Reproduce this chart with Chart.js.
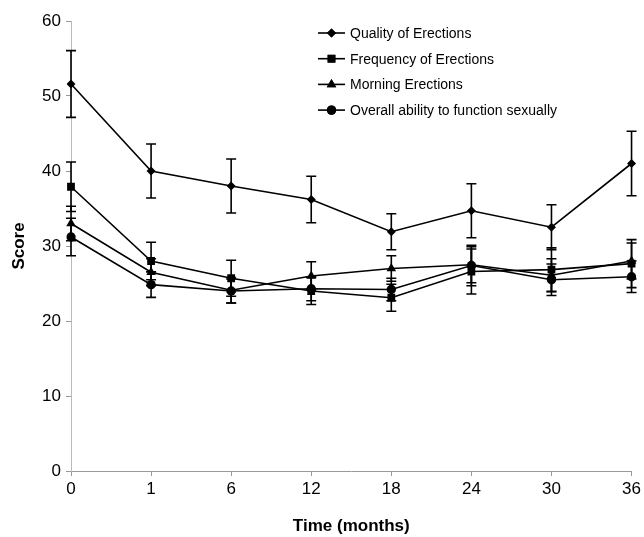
<!DOCTYPE html>
<html>
<head>
<meta charset="utf-8">
<script src="https://cdn.jsdelivr.net/npm/chart.js@4/dist/chart.umd.min.js"></script>
<style>
html,body{margin:0;padding:0;background:#fff;}
#wrap{width:644px;height:537px;position:relative;}
</style>
</head>
<body>
<div id="wrap"><canvas id="c" width="644" height="537"></canvas></div>
<script>
const timeLabels = ["0","1","6","12","18","24","30","36"];
const seriesNames = ["Quality of Erections","Frequency of Erections","Morning Erections","Overall ability to function sexually"];
const quality   = [51.6, 40.0, 38.0, 36.2, 31.9, 34.7, 32.5, 41.0];
const qualityErr= [4.45, 3.6, 3.6, 3.1, 2.4, 3.6, 3.0, 4.3];
const frequency = [37.9, 28.0, 25.7, 24.0, 23.1, 26.6, 26.85, 27.65];
const frequencyErr = [3.3, 2.5, 2.4, 1.8, 1.8, 3.0, 2.9, 3.2];
const morning   = [33.0, 26.5, 24.1, 26.0, 27.0, 27.5, 26.1, 28.0];
const morningErr= [2.3, 1.8, 1.7, 1.9, 1.7, 2.4, 2.2, 2.4];
const overall   = [31.2, 24.85, 24.0, 24.3, 24.2, 27.4, 25.5, 25.9];
const overallErr= [2.5, 1.7, 1.6, 1.6, 1.5, 2.7, 2.1, 2.1];
const yTicks = [0,10,20,30,40,50,60];

const FONT = "'Liberation Sans', Arial, sans-serif";

const styles = [
  {pointStyle:'rectRot', radius:4.5},
  {pointStyle:'rect', radius:5.5},
  {pointStyle:'triangle', radius:5.5},
  {pointStyle:'circle', radius:4.7}
];
const values = [quality, frequency, morning, overall];
const errors = [qualityErr, frequencyErr, morningErr, overallErr];

const datasets = seriesNames.map((name, k) => ({
  label: name,
  data: values[k],
  errors: errors[k],
  borderColor: '#000',
  backgroundColor: '#000',
  borderWidth: 1.6,
  pointStyle: styles[k].pointStyle,
  pointRadius: styles[k].radius,
  pointBorderWidth: 0,
  pointBackgroundColor: '#000',
  tension: 0,
  fill: false
}));

const errorBarPlugin = {
  id: 'errorBars',
  afterDatasetsDraw(chart) {
    const ctx = chart.ctx;
    const xs = chart.scales.x, ys = chart.scales.y;
    ctx.save();
    ctx.strokeStyle = '#000';
    ctx.lineWidth = 1.6;
    chart.data.datasets.forEach(ds => {
      ds.data.forEach((v, i) => {
        const e = ds.errors[i];
        const x = xs.getPixelForValue(i);
        const yt = ys.getPixelForValue(v + e);
        const yb = ys.getPixelForValue(v - e);
        ctx.beginPath();
        ctx.moveTo(x, yt); ctx.lineTo(x, yb);
        ctx.moveTo(x - 5, yt); ctx.lineTo(x + 5, yt);
        ctx.moveTo(x - 5, yb); ctx.lineTo(x + 5, yb);
        ctx.stroke();
      });
    });
    ctx.restore();
  }
};

const legendPlugin = {
  id: 'customLegend',
  afterDraw(chart) {
    const ctx = chart.ctx;
    ctx.save();
    ctx.font = '14px ' + FONT;
    ctx.fillStyle = '#000';
    ctx.textBaseline = 'middle';
    const x0 = 318, x1 = 345, ty0 = 33, dy = 25.7;
    chart.data.datasets.forEach((ds, k) => {
      const y = ty0 + k * dy;
      ctx.strokeStyle = '#000';
      ctx.lineWidth = 1.6;
      ctx.beginPath(); ctx.moveTo(x0, y); ctx.lineTo(x1, y); ctx.stroke();
      Chart.helpers.drawPoint(ctx, {pointStyle: ds.pointStyle, radius: ds.pointRadius, borderWidth: 0}, (x0 + x1) / 2, y);
      ctx.fill();
      ctx.fillText(ds.label, 350, y + 1);
    });
    ctx.restore();
  }
};

new Chart(document.getElementById('c'), {
  type: 'line',
  data: { labels: timeLabels, datasets },
  options: {
    responsive: false,
    animation: false,
    layout: { padding: { top: 21, right: 10, left: 0, bottom: 0 } },
    plugins: { legend: { display: false }, tooltip: { enabled: false } },
    scales: {
      x: {
        offset: false,
        grid: { drawOnChartArea: false, drawTicks: true, tickLength: 5, color: '#999' },
        border: { color: '#999', width: 1 },
        ticks: { color: '#000', font: { family: FONT, size: 17 }, padding: 3, maxRotation: 0, autoSkip: false },
        title: { display: true, text: 'Time (months)', color: '#000', font: { family: FONT, size: 17, weight: 'bold' }, padding: { top: 14, bottom: 0 } },
        afterFit(scale) { scale.height = 66; }
      },
      y: {
        min: 0, max: 60,
        afterBuildTicks(scale) { scale.ticks = yTicks.map(v => ({ value: v })); },
        grid: { drawOnChartArea: false, drawTicks: true, tickLength: 5, color: '#999' },
        border: { color: '#bbb', width: 1 },
        ticks: { color: '#000', font: { family: FONT, size: 17 }, padding: 5 },
        title: { display: true, text: 'Score', color: '#000', font: { family: FONT, size: 17, weight: 'bold' }, padding: { top: 9, bottom: 8 } },
        afterFit(scale) { scale.width = 71; }
      }
    }
  },
  plugins: [errorBarPlugin, legendPlugin]
});
</script>
</body>
</html>
